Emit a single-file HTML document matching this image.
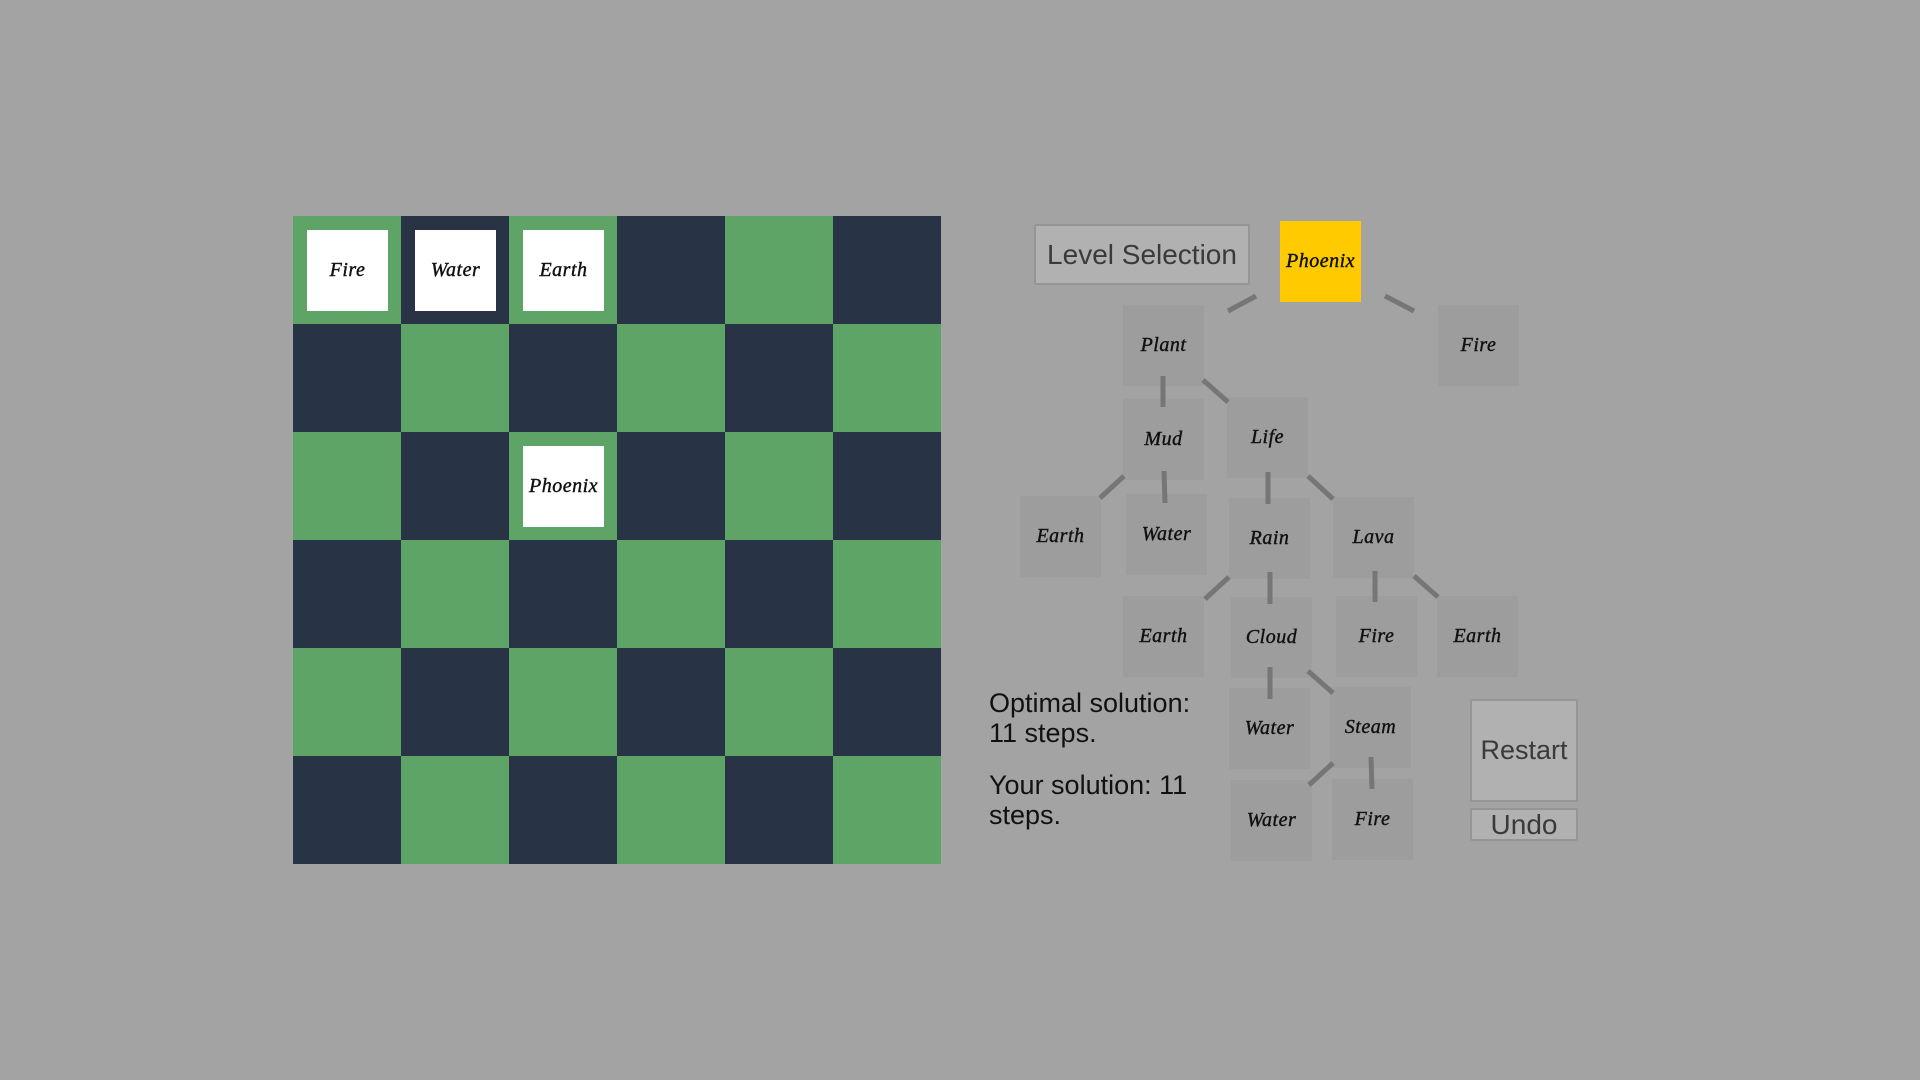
<!DOCTYPE html>
<html><head><style>
body{margin:0;width:1920px;height:1080px;background:#a3a3a3;position:relative;overflow:hidden;font-family:"Liberation Sans",sans-serif}
.c{position:absolute;width:108px;height:108px}
.g{background:#5ea466}.d{background:#283446}
.t{position:absolute;width:81px;height:81px;background:#fff;display:flex;align-items:center;justify-content:center;font:italic 20px "Liberation Serif",serif;letter-spacing:0.5px;color:#111;-webkit-text-stroke:0.4px #111}
.n{position:absolute;width:81px;height:81px;background:#9d9d9d;display:flex;align-items:center;justify-content:center;font:italic 20px "Liberation Serif",serif;letter-spacing:0.5px;color:#111;-webkit-text-stroke:0.4px #111}
.btn{position:absolute;background:#b1b1b1;border:2px solid #959595;box-sizing:border-box;display:flex;align-items:center;justify-content:center;color:#3a3a3a;border-radius:2px}
.txt{position:absolute;left:989px;font-size:27px;line-height:30px;color:#111}
</style></head><body>
<div id="board"></div>
<script>
var b=document.getElementById('board'),h='';
for(var r=0;r<6;r++)for(var c=0;c<6;c++)h+='<div class="c '+((r+c)%2?'d':'g')+'" style="left:'+(293+c*108)+'px;top:'+(216+r*108)+'px"></div>';
b.innerHTML=h;
</script>
<div class="t" style="left:307px;top:230px">Fire</div>
<div class="t" style="left:415px;top:230px">Water</div>
<div class="t" style="left:523px;top:230px">Earth</div>
<div class="t" style="left:523px;top:446px">Phoenix</div>

<div class="btn" style="left:1034px;top:224px;width:216px;height:61px;font-size:28px">Level Selection</div>
<div class="n" style="left:1280px;top:221px;background:#ffcb00">Phoenix</div>
<div class="n" style="left:1123px;top:305px">Plant</div>
<div class="n" style="left:1438px;top:305px">Fire</div>
<div class="n" style="left:1123px;top:399px">Mud</div>
<div class="n" style="left:1227px;top:397px">Life</div>
<div class="n" style="left:1020px;top:496px">Earth</div>
<div class="n" style="left:1126px;top:494px">Water</div>
<div class="n" style="left:1229px;top:498px">Rain</div>
<div class="n" style="left:1333px;top:497px">Lava</div>
<div class="n" style="left:1123px;top:596px">Earth</div>
<div class="n" style="left:1231px;top:597px">Cloud</div>
<div class="n" style="left:1336px;top:596px">Fire</div>
<div class="n" style="left:1437px;top:596px">Earth</div>
<div class="n" style="left:1229px;top:688px">Water</div>
<div class="n" style="left:1330px;top:687px">Steam</div>
<div class="n" style="left:1231px;top:780px">Water</div>
<div class="n" style="left:1332px;top:779px">Fire</div>

<svg style="position:absolute;left:0;top:0" width="1920" height="1080">
<g stroke="#767676" stroke-width="5">
<line x1="1228" y1="311" x2="1256" y2="296"/>
<line x1="1385" y1="296" x2="1414" y2="311"/>
<line x1="1163" y1="376" x2="1163" y2="407"/>
<line x1="1203" y1="380" x2="1228" y2="402"/>
<line x1="1124" y1="476" x2="1100" y2="498"/>
<line x1="1164" y1="471" x2="1165" y2="503"/>
<line x1="1268" y1="472" x2="1268" y2="504"/>
<line x1="1308" y1="476" x2="1333" y2="499"/>
<line x1="1229" y1="577" x2="1205" y2="599"/>
<line x1="1270" y1="572" x2="1270" y2="604"/>
<line x1="1375" y1="571" x2="1375" y2="602"/>
<line x1="1414" y1="576" x2="1438" y2="597"/>
<line x1="1270" y1="667" x2="1270" y2="699"/>
<line x1="1308" y1="671" x2="1333" y2="693"/>
<line x1="1333" y1="763" x2="1309" y2="785"/>
<line x1="1371" y1="757" x2="1372" y2="789"/>
</g></svg>

<div class="txt" style="top:688px">Optimal solution:<br>11 steps.</div>
<div class="txt" style="top:770px">Your solution: 11<br>steps.</div>

<div class="btn" style="left:1470px;top:699px;width:108px;height:103px;font-size:27px">Restart</div>
<div class="btn" style="left:1470px;top:808px;width:108px;height:33px;font-size:28px">Undo</div>
</body></html>
